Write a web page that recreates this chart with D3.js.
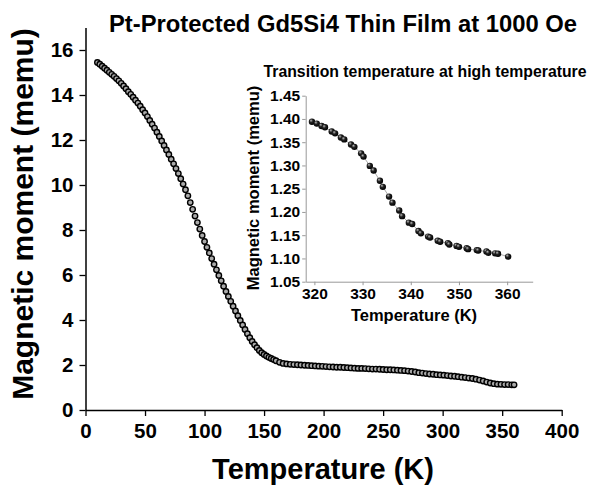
<!DOCTYPE html>
<html>
<head>
<meta charset="utf-8">
<script src="https://cdn.jsdelivr.net/npm/d3@7"></script>
<style>
  body { margin: 0; background: #fff; }
  svg text { font-family: "Liberation Sans", Arial, sans-serif; font-weight: bold; fill: #000; }
</style>
</head>
<body>
<div id="chart"></div>
<script>
// main curve: temperature (K) and moment (memu)
const mainTemp = [10,12,14,16,18,20,22,24,26,28,30,32,34,36,38,40,42,44,46,48,50,52,54,56,58,60,62,64,66,68,70,72,74,76,78,80,82,84,86,88,90,92,94,96,98,100,102,104,106,108,110,112,114,116,118,120,122,124,126,128,130,132,134,136,138,140,142,144,146,148,150,152,154,156,158,160,
  163,166,169,172,175,178,181,184,187,190,193,196,199,202,205,208,211,214,217,220,223,226,229,232,235,238,241,244,247,250,253,256,259,262,265,268,271,274,277,280,283,286,289,292,295,298,301,304,307,310,313,316,319,322,325,328,331,334,337,340,343,346,349,352,355,358,360];
const mainMoment = [15.45,15.37,15.28,15.19,15.10,15.01,14.92,14.83,14.73,14.63,14.52,14.40,14.28,14.15,14.03,13.90,13.77,13.64,13.50,13.35,13.20,13.04,12.87,12.70,12.53,12.35,12.16,11.96,11.76,11.56,11.36,11.15,10.94,10.73,10.51,10.28,10.04,9.79,9.52,9.22,8.92,8.62,8.33,8.04,7.76,7.49,7.23,6.98,6.73,6.48,6.23,5.98,5.74,5.50,5.27,5.05,4.83,4.61,4.40,4.19,3.98,3.78,3.58,3.39,3.21,3.05,2.90,2.77,2.65,2.55,2.47,2.40,2.34,2.29,2.24,2.19,
  2.12,2.07,2.05,2.03,2.02,2.01,2.00,1.99,1.98,1.97,1.96,1.95,1.94,1.93,1.92,1.91,1.90,1.90,1.89,1.88,1.87,1.86,1.85,1.85,1.84,1.83,1.82,1.82,1.81,1.80,1.79,1.79,1.78,1.77,1.76,1.75,1.73,1.71,1.69,1.66,1.64,1.62,1.60,1.59,1.57,1.56,1.55,1.53,1.51,1.50,1.48,1.46,1.44,1.42,1.40,1.37,1.33,1.29,1.24,1.20,1.17,1.15,1.14,1.13,1.13,1.12,1.12];

// inset: high temperature transition
const insetTemp = [319.5,320.5,321.5,322.2,323.6,324.3,325.5,326.2,327.6,328.3,329.7,330.2,331.5,332.3,333.6,334.2,335.5,336.2,337.6,338.2,339.6,340.3,341.6,342.1,343.6,344.0,345.6,346.1,347.7,348.0,349.5,350.0,351.6,351.9,353.7,354.0,355.7,356.1,357.5,358.1,360.2];
const insetMoment = [1.394,1.390,1.385,1.382,1.373,1.369,1.360,1.356,1.345,1.340,1.326,1.319,1.299,1.289,1.267,1.254,1.233,1.220,1.203,1.191,1.177,1.174,1.159,1.154,1.147,1.145,1.138,1.136,1.133,1.130,1.127,1.125,1.122,1.120,1.118,1.117,1.115,1.112,1.111,1.110,1.104];

const mainXTicks = [0,50,100,150,200,250,300,350,400];
const mainXMinor = [25,75,125,175,225,275,325,375];
const mainYTicks = [0,2,4,6,8,10,12,14,16];
const mainYMinor = [1,3,5,7,9,11,13,15,17];
const insetXTicks = [320,330,340,350,360];
const insetXMinor = [325,335,345,355,365];
const insetYTicks = [1.05,1.10,1.15,1.20,1.25,1.30,1.35,1.40,1.45];
const insetYMinor = [1.075,1.125,1.175,1.225,1.275,1.325,1.375,1.425];

const width = 591, height = 487;
const svg = d3.select("#chart").append("svg")
    .attr("width", width)
    .attr("height", height);

// ball look for the inset markers
const grad = svg.append("defs").append("radialGradient")
    .attr("id", "ball").attr("cx", "40%").attr("cy", "40%").attr("r", "60%")
    .attr("fx", "35%").attr("fy", "30%");
grad.append("stop").attr("offset", "0%").attr("stop-color", "#bbb");
grad.append("stop").attr("offset", "45%").attr("stop-color", "#222");
grad.append("stop").attr("offset", "100%").attr("stop-color", "#000");

const tickFont = (g, size) => g
    .attr("font-family", "Liberation Sans, Arial, sans-serif")
    .attr("font-weight", "bold")
    .selectAll("text")
      .style("font-size", size)
      .style("font-weight", "bold");

// ---- main plot
const x = d3.scaleLinear().domain([0, 400]).range([85.5, 561.7]);
const y = d3.scaleLinear().domain([0, 17]).range([410, 27.5]);

const gx = svg.append("g").attr("transform", "translate(0,410)");
gx.call(d3.axisBottom(x).tickValues(mainXMinor).tickSize(3.5).tickFormat(""));
gx.call(d3.axisBottom(x).tickValues(mainXTicks).tickSize(6).tickPadding(7).tickSizeOuter(0));
tickFont(gx, "20.5px");

const gy = svg.append("g").attr("transform", "translate(85.5,0)");
gy.call(d3.axisLeft(y).tickValues(mainYMinor).tickSize(3.5).tickFormat(""));
gy.call(d3.axisLeft(y).tickValues(mainYTicks).tickSize(6).tickPadding(6).tickSizeOuter(0));
tickFont(gy, "20.5px");

svg.selectAll(".domain").attr("stroke", "#000").attr("stroke-width", 1.5);
svg.selectAll(".tick line").attr("stroke", "#000").attr("stroke-width", 1.3);

svg.append("g")
  .selectAll("circle")
  .data(mainTemp)
  .enter().append("circle")
    .attr("cx", (d) => x(d))
    .attr("cy", (d, i) => y(mainMoment[i]))
    .attr("r", 2.7)
    .attr("fill", "#aaa")
    .attr("stroke", "#000")
    .attr("stroke-width", 1.4);

svg.append("text")
    .attr("x", 343).attr("y", 32)
    .attr("text-anchor", "middle")
    .style("font-size", "23.8px")
    .text("Pt-Protected Gd5Si4 Thin Film at 1000 Oe");

svg.append("text")
    .attr("x", 323).attr("y", 479)
    .attr("text-anchor", "middle")
    .style("font-size", "29px")
    .text("Temperature (K)");

svg.append("text")
    .attr("transform", "translate(33,214) rotate(-90)")
    .attr("text-anchor", "middle")
    .style("font-size", "30px")
    .text("Magnetic moment (memu)");

// ---- inset
const ix = d3.scaleLinear().domain([318.2, 365.3]).range([305.7, 532.7]);
const iy = d3.scaleLinear().domain([1.05, 1.45]).range([281.7, 95.7]);

const igx = svg.append("g").attr("class", "inset").attr("transform", "translate(0,281.7)");
igx.call(d3.axisBottom(ix).tickValues(insetXMinor).tickSize(2).tickFormat(""));
igx.call(d3.axisBottom(ix).tickValues(insetXTicks).tickSize(3.5).tickPadding(3).tickSizeOuter(0));
tickFont(igx, "15.5px");

const igy = svg.append("g").attr("class", "inset").attr("transform", "translate(305.7,0)");
igy.call(d3.axisLeft(iy).tickValues(insetYMinor).tickSize(2).tickFormat(""));
igy.call(d3.axisLeft(iy).tickValues(insetYTicks).tickSize(3.5).tickPadding(2).tickSizeOuter(0).tickFormat(d3.format(".2f")));
tickFont(igy, "15.5px");

svg.selectAll(".inset .domain").attr("stroke", "#999").attr("stroke-width", 1);
svg.selectAll(".inset .tick line").attr("stroke", "#999").attr("stroke-width", 1);

const insetLine = d3.line()
    .x((d) => ix(d))
    .y((d, i) => iy(insetMoment[i]));

svg.append("path")
    .datum(insetTemp)
    .attr("d", insetLine)
    .attr("fill", "none")
    .attr("stroke", "#aaa")
    .attr("stroke-width", 1);

svg.append("g")
  .selectAll("circle")
  .data(insetTemp)
  .enter().append("circle")
    .attr("cx", (d) => ix(d))
    .attr("cy", (d, i) => iy(insetMoment[i]))
    .attr("r", 3.2)
    .attr("fill", "url(#ball)");

svg.append("text")
    .attr("x", 425).attr("y", 77)
    .attr("text-anchor", "middle")
    .style("font-size", "15.8px")
    .text("Transition temperature at high temperature");

svg.append("text")
    .attr("x", 414).attr("y", 321)
    .attr("text-anchor", "middle")
    .style("font-size", "16.5px")
    .text("Temperature (K)");

svg.append("text")
    .attr("transform", "translate(259,188) rotate(-90)")
    .attr("text-anchor", "middle")
    .style("font-size", "16.5px")
    .text("Magnetic moment (memu)");
</script>
</body>
</html>
